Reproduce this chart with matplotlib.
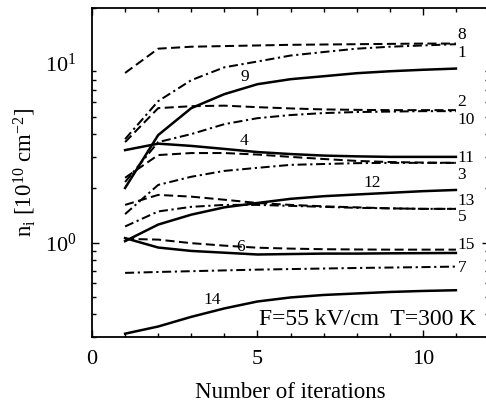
import numpy as np
import matplotlib
matplotlib.use("Agg")
import matplotlib.pyplot as plt
from matplotlib.ticker import FixedLocator, LogLocator, NullFormatter

plt.rcParams['font.family'] = ['Liberation Serif', 'DejaVu Serif']
plt.rcParams['mathtext.fontset'] = 'custom'
plt.rcParams['mathtext.rm'] = 'Liberation Serif'
plt.rcParams['mathtext.it'] = 'Liberation Serif:italic'

iterations = [1, 2, 3, 4, 5, 6, 7, 8, 9, 10, 11]

n1 = [3.75, 6.09, 7.96, 9.38, 10.1, 10.9, 11.4, 11.9, 12.2, 12.4, 12.6]
n2 = [3.61, 5.57, 5.71, 5.75, 5.64, 5.55, 5.48, 5.45, 5.43, 5.43, 5.43]
n3 = [1.44, 2.09, 2.32, 2.50, 2.60, 2.70, 2.73, 2.76, 2.77, 2.77, 2.77]
n4 = [3.26, 3.54, 3.44, 3.31, 3.18, 3.10, 3.04, 3.01, 2.99, 2.99, 2.99]
n5 = [1.23, 1.49, 1.58, 1.62, 1.62, 1.60, 1.58, 1.56, 1.55, 1.54, 1.54]
n6 = [1.06, 0.94, 0.90, 0.88, 0.86, 0.865, 0.87, 0.87, 0.873, 0.875, 0.877]
n7 = [0.680, 0.688, 0.695, 0.702, 0.709, 0.714, 0.719, 0.724, 0.728, 0.732, 0.737]
n8 = [8.73, 11.9, 12.2, 12.3, 12.4, 12.5, 12.55, 12.6, 12.65, 12.7, 12.7]
n9 = [2.01, 3.95, 5.57, 6.66, 7.56, 8.06, 8.37, 8.70, 8.92, 9.09, 9.23]
n10 = [2.17, 3.61, 4.00, 4.54, 4.90, 5.10, 5.23, 5.30, 5.33, 5.36, 5.36]
n11 = [2.29, 3.06, 3.14, 3.14, 3.08, 2.99, 2.91, 2.84, 2.80, 2.78, 2.77]
n12 = [1.02, 1.26, 1.43, 1.57, 1.66, 1.75, 1.81, 1.85, 1.89, 1.93, 1.96]
n13 = [1.62, 1.84, 1.80, 1.73, 1.66, 1.62, 1.59, 1.57, 1.55, 1.54, 1.54]
n14 = [0.313, 0.343, 0.388, 0.432, 0.472, 0.497, 0.513, 0.523, 0.533, 0.540, 0.545]
n15 = [1.05, 1.04, 0.994, 0.963, 0.938, 0.927, 0.92, 0.917, 0.915, 0.915, 0.915]

# curve labels: text, x, y
label_text = ['8', '1', '9', '2', '10', '4', '11', '3', '12', '13', '5', '6', '15', '7', '14']
label_x = [11.05, 11.05, 4.62, 11.05, 11.05, 4.59, 11.05, 11.05, 8.46, 11.05, 11.05, 4.5, 11.05, 11.05, 3.63]
label_y = [14.1, 11.2, 8.26, 6.0, 4.78, 3.66, 2.95, 2.38, 2.14, 1.7, 1.38, 0.95, 0.975, 0.727, 0.484]

solid = [n4, n6, n9, n12, n14]
dashed = [n2, n8, n11, n13, n15]
dashdot = [n1, n3, n5, n7, n10]

fig = plt.figure(figsize=(4.86, 4.05), dpi=100)
ax = fig.add_axes([92 / 486, 68 / 405, 397 / 486, 329 / 405])

for n in solid:
    ax.plot(iterations, n, color='black', lw=1.8, linestyle='-')
for n in dashed:
    ax.plot(iterations, n, color='black', lw=1.45, dashes=(4.5, 2.2))
for n in dashdot:
    ax.plot(iterations, n, color='black', lw=1.45, dashes=(4.5, 1.8, 1.1, 1.8))

for t, x, y in zip(label_text, label_x, label_y):
    ha = 'left' if x > 11 else 'center'
    ax.text(x, y, t, fontsize=12.5, ha=ha, va='center')

ax.text(0.967, 0.036, 'F=55 kV/cm  T=300 K', transform=ax.transAxes,
        fontsize=17, ha='right', va='baseline')

ax.set_yscale('log')
ax.set_xlim(0, 12)
ax.set_ylim(0.3, 20)

ax.xaxis.set_major_locator(FixedLocator([0, 5, 10]))
ax.xaxis.set_minor_locator(FixedLocator(range(0, 13)))
ax.yaxis.set_major_locator(FixedLocator([1, 10]))
ax.yaxis.set_minor_locator(LogLocator(base=10, subs=np.arange(2, 10)))
ax.yaxis.set_minor_formatter(NullFormatter())

ax.tick_params(which='both', direction='in', top=True, right=True, width=1.0)
ax.tick_params(which='major', length=5, labelsize=16)
ax.tick_params(which='minor', length=3)
ax.tick_params(axis='x', which='major', pad=9)
ax.tick_params(axis='y', which='major', pad=11)

# the 10^1 tick has no tick mark in the original
ticks = ax.yaxis.get_major_ticks()
ticks[1].tick1line.set_visible(False)
ticks[1].tick2line.set_visible(False)

for s in ax.spines.values():
    s.set_linewidth(1.3)

ax.set_xlabel('Number of iterations', fontsize=16.5, labelpad=10)
ax.set_ylabel(r'n$_\mathrm{i}$ [10$^{10}$ cm$^{-2}$]', fontsize=16.5, labelpad=5)

fig.savefig('out.png', dpi=100)
